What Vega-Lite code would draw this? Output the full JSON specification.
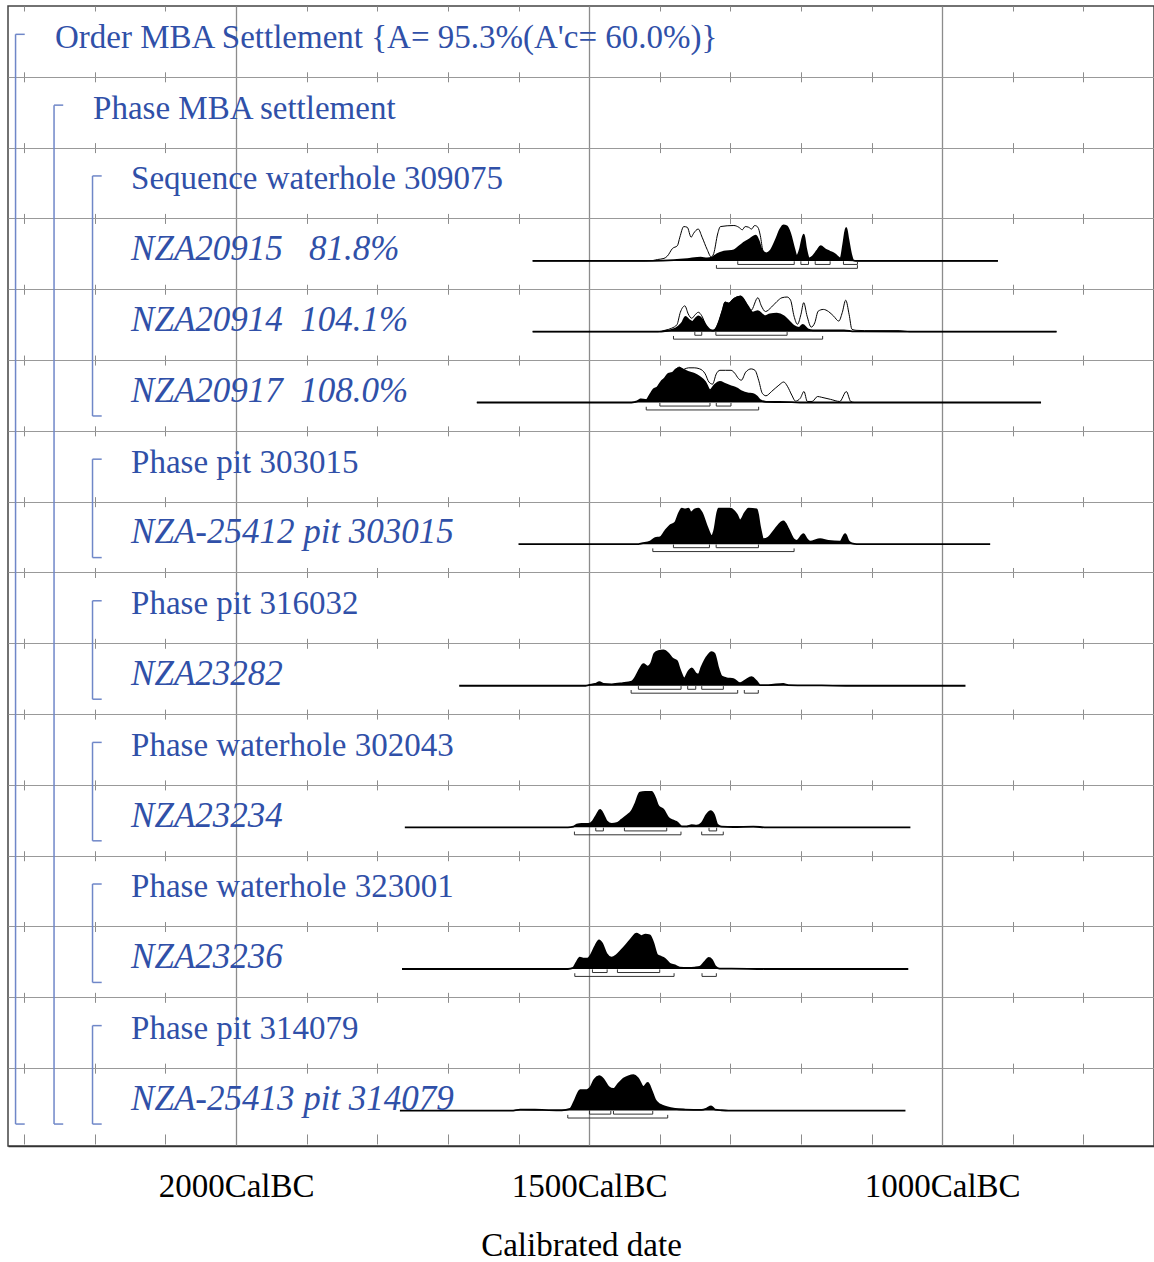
{
  "$schema": "https://vega.github.io/schema/vega-lite/v6.json",
  "width": 1146,
  "height": 1140,
  "autosize": "none",
  "padding": {"left": 8, "top": 6, "right": 0, "bottom": 116},
  "background": "white",
  "config": {
    "view": {"stroke": "#444", "strokeWidth": 1.5}
  },
  "datasets": {
    "labels": [
      {"row": 0, "level": 0, "it": false, "text": "Order MBA Settlement {A= 95.3%(A'c= 60.0%)}"},
      {"row": 1, "level": 1, "it": false, "text": "Phase MBA settlement"},
      {"row": 2, "level": 2, "it": false, "text": "Sequence waterhole 309075"},
      {"row": 3, "level": 2, "it": true, "text": "NZA20915\u00a0\u00a0\u00a081.8%"},
      {"row": 4, "level": 2, "it": true, "text": "NZA20914\u00a0\u00a0104.1%"},
      {"row": 5, "level": 2, "it": true, "text": "NZA20917\u00a0\u00a0108.0%"},
      {"row": 6, "level": 2, "it": false, "text": "Phase pit 303015"},
      {"row": 7, "level": 2, "it": true, "text": "NZA-25412 pit 303015"},
      {"row": 8, "level": 2, "it": false, "text": "Phase pit 316032"},
      {"row": 9, "level": 2, "it": true, "text": "NZA23282"},
      {"row": 10, "level": 2, "it": false, "text": "Phase waterhole 302043"},
      {"row": 11, "level": 2, "it": true, "text": "NZA23234"},
      {"row": 12, "level": 2, "it": false, "text": "Phase waterhole 323001"},
      {"row": 13, "level": 2, "it": true, "text": "NZA23236"},
      {"row": 14, "level": 2, "it": false, "text": "Phase pit 314079"},
      {"row": 15, "level": 2, "it": true, "text": "NZA-25413 pit 314079"}
    ],
    "brackets": [
      {"level": 0, "first": 0, "last": 15},
      {"level": 1, "first": 1, "last": 15},
      {"level": 2, "first": 2, "last": 5},
      {"level": 2, "first": 6, "last": 7},
      {"level": 2, "first": 8, "last": 9},
      {"level": 2, "first": 10, "last": 11},
      {"level": 2, "first": 12, "last": 13},
      {"level": 2, "first": 14, "last": 15}
    ],
    "ranges": [
      {"row": 3, "ci": 68, "from": 1289.5, "to": 1209.5},
      {"row": 3, "ci": 68, "from": 1200.1, "to": 1189.3},
      {"row": 3, "ci": 68, "from": 1179.8, "to": 1158.7},
      {"row": 3, "ci": 68, "from": 1139.8, "to": 1120},
      {"row": 3, "ci": 95, "from": 1319.7, "to": 1120},
      {"row": 4, "ci": 68, "from": 1350.3, "to": 1340.5},
      {"row": 4, "ci": 68, "from": 1320.5, "to": 1219.6},
      {"row": 4, "ci": 95, "from": 1380.5, "to": 1169.3},
      {"row": 5, "ci": 68, "from": 1399.8, "to": 1328.8},
      {"row": 5, "ci": 68, "from": 1319.9, "to": 1299.1},
      {"row": 5, "ci": 95, "from": 1419.1, "to": 1259.9},
      {"row": 7, "ci": 68, "from": 1380.6, "to": 1329.6},
      {"row": 7, "ci": 68, "from": 1320.1, "to": 1260.2},
      {"row": 7, "ci": 95, "from": 1409.8, "to": 1209.7},
      {"row": 9, "ci": 68, "from": 1430.2, "to": 1369.8},
      {"row": 9, "ci": 68, "from": 1360.4, "to": 1349},
      {"row": 9, "ci": 68, "from": 1340.5, "to": 1309.9},
      {"row": 9, "ci": 95, "from": 1440.5, "to": 1289.6},
      {"row": 9, "ci": 95, "from": 1280.2, "to": 1260.4},
      {"row": 11, "ci": 68, "from": 1490.6, "to": 1479.8},
      {"row": 11, "ci": 68, "from": 1450, "to": 1390.1},
      {"row": 11, "ci": 68, "from": 1330.2, "to": 1319.4},
      {"row": 11, "ci": 95, "from": 1520.8, "to": 1369.9},
      {"row": 11, "ci": 95, "from": 1340.6, "to": 1310},
      {"row": 13, "ci": 68, "from": 1495.3, "to": 1474.5},
      {"row": 13, "ci": 68, "from": 1459.9, "to": 1400},
      {"row": 13, "ci": 95, "from": 1520.3, "to": 1379.7},
      {"row": 13, "ci": 95, "from": 1340.1, "to": 1319.8},
      {"row": 15, "ci": 68, "from": 1499.5, "to": 1469.3},
      {"row": 15, "ci": 68, "from": 1465.5, "to": 1409.9},
      {"row": 15, "ci": 95, "from": 1530.2, "to": 1388.7}
    ],
    "curves": [
      {"row": 3, "k": "prior", "yr": 1580, "p": 0},
      {"row": 3, "k": "prior", "yr": 1420, "p": 0},
      {"row": 3, "k": "prior", "yr": 1410, "p": 0.01},
      {"row": 3, "k": "prior", "yr": 1403, "p": 0.04},
      {"row": 3, "k": "prior", "yr": 1394, "p": 0.07},
      {"row": 3, "k": "prior", "yr": 1389, "p": 0.14},
      {"row": 3, "k": "prior", "yr": 1382, "p": 0.35},
      {"row": 3, "k": "prior", "yr": 1375, "p": 0.43},
      {"row": 3, "k": "prior", "yr": 1371.5, "p": 0.67},
      {"row": 3, "k": "prior", "yr": 1366, "p": 0.97},
      {"row": 3, "k": "prior", "yr": 1361, "p": 0.95},
      {"row": 3, "k": "prior", "yr": 1355.5, "p": 0.67},
      {"row": 3, "k": "prior", "yr": 1352, "p": 0.78},
      {"row": 3, "k": "prior", "yr": 1345.5, "p": 0.9},
      {"row": 3, "k": "prior", "yr": 1340, "p": 0.67},
      {"row": 3, "k": "prior", "yr": 1333, "p": 0.33},
      {"row": 3, "k": "prior", "yr": 1327, "p": 0.11},
      {"row": 3, "k": "prior", "yr": 1323.5, "p": 0.21},
      {"row": 3, "k": "prior", "yr": 1318, "p": 0.76},
      {"row": 3, "k": "prior", "yr": 1314, "p": 0.97},
      {"row": 3, "k": "prior", "yr": 1295, "p": 1.0},
      {"row": 3, "k": "prior", "yr": 1288, "p": 0.95},
      {"row": 3, "k": "prior", "yr": 1283, "p": 0.88},
      {"row": 3, "k": "prior", "yr": 1279, "p": 0.97},
      {"row": 3, "k": "prior", "yr": 1274, "p": 0.95},
      {"row": 3, "k": "prior", "yr": 1270, "p": 0.9},
      {"row": 3, "k": "prior", "yr": 1265.5, "p": 1.0},
      {"row": 3, "k": "prior", "yr": 1261, "p": 0.95},
      {"row": 3, "k": "prior", "yr": 1257.5, "p": 0.71},
      {"row": 3, "k": "prior", "yr": 1254, "p": 0.3},
      {"row": 3, "k": "prior", "yr": 1249, "p": 0.15},
      {"row": 3, "k": "prior", "yr": 1240, "p": 0.12},
      {"row": 3, "k": "prior", "yr": 1220, "p": 0.1},
      {"row": 3, "k": "prior", "yr": 1200, "p": 0.05},
      {"row": 3, "k": "prior", "yr": 1150, "p": 0.03},
      {"row": 3, "k": "prior", "yr": 1120, "p": 0},
      {"row": 3, "k": "prior", "yr": 921, "p": 0},
      {"row": 3, "k": "post", "yr": 1580, "p": 0},
      {"row": 3, "k": "post", "yr": 1410, "p": 0},
      {"row": 3, "k": "post", "yr": 1380, "p": 0.02},
      {"row": 3, "k": "post", "yr": 1361, "p": 0.05},
      {"row": 3, "k": "post", "yr": 1342, "p": 0.09},
      {"row": 3, "k": "post", "yr": 1333, "p": 0.07},
      {"row": 3, "k": "post", "yr": 1326, "p": 0.09},
      {"row": 3, "k": "post", "yr": 1319, "p": 0.19},
      {"row": 3, "k": "post", "yr": 1309, "p": 0.26},
      {"row": 3, "k": "post", "yr": 1295, "p": 0.3},
      {"row": 3, "k": "post", "yr": 1288, "p": 0.4},
      {"row": 3, "k": "post", "yr": 1283, "p": 0.48},
      {"row": 3, "k": "post", "yr": 1276, "p": 0.57},
      {"row": 3, "k": "post", "yr": 1272, "p": 0.62},
      {"row": 3, "k": "post", "yr": 1267, "p": 0.69},
      {"row": 3, "k": "post", "yr": 1264, "p": 0.71},
      {"row": 3, "k": "post", "yr": 1260, "p": 0.57},
      {"row": 3, "k": "post", "yr": 1255, "p": 0.29},
      {"row": 3, "k": "post", "yr": 1249, "p": 0.21},
      {"row": 3, "k": "post", "yr": 1243, "p": 0.29},
      {"row": 3, "k": "post", "yr": 1236, "p": 0.57},
      {"row": 3, "k": "post", "yr": 1229, "p": 0.9},
      {"row": 3, "k": "post", "yr": 1225, "p": 1.0},
      {"row": 3, "k": "post", "yr": 1220, "p": 0.98},
      {"row": 3, "k": "post", "yr": 1215, "p": 0.76},
      {"row": 3, "k": "post", "yr": 1210, "p": 0.38},
      {"row": 3, "k": "post", "yr": 1206, "p": 0.14},
      {"row": 3, "k": "post", "yr": 1202, "p": 0.29},
      {"row": 3, "k": "post", "yr": 1196, "p": 0.74},
      {"row": 3, "k": "post", "yr": 1193, "p": 0.38},
      {"row": 3, "k": "post", "yr": 1188, "p": 0.07},
      {"row": 3, "k": "post", "yr": 1185, "p": 0.1},
      {"row": 3, "k": "post", "yr": 1177, "p": 0.29},
      {"row": 3, "k": "post", "yr": 1172, "p": 0.42},
      {"row": 3, "k": "post", "yr": 1166, "p": 0.33},
      {"row": 3, "k": "post", "yr": 1159, "p": 0.26},
      {"row": 3, "k": "post", "yr": 1152, "p": 0.19},
      {"row": 3, "k": "post", "yr": 1147, "p": 0.1},
      {"row": 3, "k": "post", "yr": 1144, "p": 0.07},
      {"row": 3, "k": "post", "yr": 1140, "p": 0.48},
      {"row": 3, "k": "post", "yr": 1136, "p": 0.93},
      {"row": 3, "k": "post", "yr": 1133, "p": 0.62},
      {"row": 3, "k": "post", "yr": 1129, "p": 0.19},
      {"row": 3, "k": "post", "yr": 1126, "p": 0.02},
      {"row": 3, "k": "post", "yr": 1122, "p": 0},
      {"row": 3, "k": "post", "yr": 921, "p": 0},
      {"row": 4, "k": "prior", "yr": 1580, "p": 0},
      {"row": 4, "k": "prior", "yr": 1402.5, "p": 0},
      {"row": 4, "k": "prior", "yr": 1392.7, "p": 0.04},
      {"row": 4, "k": "prior", "yr": 1383, "p": 0.1},
      {"row": 4, "k": "prior", "yr": 1375.6, "p": 0.2},
      {"row": 4, "k": "prior", "yr": 1370.8, "p": 0.55},
      {"row": 4, "k": "prior", "yr": 1364.4, "p": 0.73},
      {"row": 4, "k": "prior", "yr": 1359.6, "p": 0.5},
      {"row": 4, "k": "prior", "yr": 1354.7, "p": 0.38},
      {"row": 4, "k": "prior", "yr": 1349.8, "p": 0.48},
      {"row": 4, "k": "prior", "yr": 1345.4, "p": 0.55},
      {"row": 4, "k": "prior", "yr": 1340.5, "p": 0.45},
      {"row": 4, "k": "prior", "yr": 1334.2, "p": 0.17},
      {"row": 4, "k": "prior", "yr": 1328.3, "p": 0.05},
      {"row": 4, "k": "prior", "yr": 1324.4, "p": 0.04},
      {"row": 4, "k": "prior", "yr": 1320.5, "p": 0.1},
      {"row": 4, "k": "prior", "yr": 1315.7, "p": 0.32},
      {"row": 4, "k": "prior", "yr": 1311, "p": 0.62},
      {"row": 4, "k": "prior", "yr": 1307.4, "p": 0.84},
      {"row": 4, "k": "prior", "yr": 1302.5, "p": 0.81},
      {"row": 4, "k": "prior", "yr": 1295.2, "p": 0.94},
      {"row": 4, "k": "prior", "yr": 1285.4, "p": 1.0},
      {"row": 4, "k": "prior", "yr": 1278.1, "p": 0.82},
      {"row": 4, "k": "prior", "yr": 1270.8, "p": 0.6},
      {"row": 4, "k": "prior", "yr": 1261, "p": 0.96},
      {"row": 4, "k": "prior", "yr": 1256.1, "p": 0.73},
      {"row": 4, "k": "prior", "yr": 1250.3, "p": 0.57},
      {"row": 4, "k": "prior", "yr": 1241.5, "p": 0.7},
      {"row": 4, "k": "prior", "yr": 1234.2, "p": 0.85},
      {"row": 4, "k": "prior", "yr": 1226.9, "p": 0.96},
      {"row": 4, "k": "prior", "yr": 1219.6, "p": 0.98},
      {"row": 4, "k": "prior", "yr": 1214.7, "p": 0.89},
      {"row": 4, "k": "prior", "yr": 1209.8, "p": 0.44},
      {"row": 4, "k": "prior", "yr": 1204.9, "p": 0.21},
      {"row": 4, "k": "prior", "yr": 1200, "p": 0.49},
      {"row": 4, "k": "prior", "yr": 1196.1, "p": 0.82},
      {"row": 4, "k": "prior", "yr": 1191.3, "p": 0.44},
      {"row": 4, "k": "prior", "yr": 1185.4, "p": 0.13},
      {"row": 4, "k": "prior", "yr": 1180.5, "p": 0.25},
      {"row": 4, "k": "prior", "yr": 1175.6, "p": 0.58},
      {"row": 4, "k": "prior", "yr": 1168.3, "p": 0.63},
      {"row": 4, "k": "prior", "yr": 1161, "p": 0.57},
      {"row": 4, "k": "prior", "yr": 1153.7, "p": 0.44},
      {"row": 4, "k": "prior", "yr": 1146.4, "p": 0.3},
      {"row": 4, "k": "prior", "yr": 1141.5, "p": 0.54},
      {"row": 4, "k": "prior", "yr": 1136.6, "p": 0.89},
      {"row": 4, "k": "prior", "yr": 1131.8, "p": 0.49},
      {"row": 4, "k": "prior", "yr": 1127.8, "p": 0.07},
      {"row": 4, "k": "prior", "yr": 1122, "p": 0.04},
      {"row": 4, "k": "prior", "yr": 1109.8, "p": 0.03},
      {"row": 4, "k": "prior", "yr": 1061, "p": 0.03},
      {"row": 4, "k": "prior", "yr": 1046.4, "p": 0},
      {"row": 4, "k": "prior", "yr": 838, "p": 0},
      {"row": 4, "k": "post", "yr": 1580, "p": 0},
      {"row": 4, "k": "post", "yr": 1400, "p": 0},
      {"row": 4, "k": "post", "yr": 1392.7, "p": 0.02},
      {"row": 4, "k": "post", "yr": 1383, "p": 0.05},
      {"row": 4, "k": "post", "yr": 1373.2, "p": 0.15},
      {"row": 4, "k": "post", "yr": 1368.3, "p": 0.25},
      {"row": 4, "k": "post", "yr": 1363.5, "p": 0.42},
      {"row": 4, "k": "post", "yr": 1358.6, "p": 0.33},
      {"row": 4, "k": "post", "yr": 1353.7, "p": 0.28},
      {"row": 4, "k": "post", "yr": 1348.8, "p": 0.38},
      {"row": 4, "k": "post", "yr": 1344.9, "p": 0.43},
      {"row": 4, "k": "post", "yr": 1340, "p": 0.35},
      {"row": 4, "k": "post", "yr": 1334.2, "p": 0.17},
      {"row": 4, "k": "post", "yr": 1328.3, "p": 0.05},
      {"row": 4, "k": "post", "yr": 1324.4, "p": 0.03},
      {"row": 4, "k": "post", "yr": 1320.5, "p": 0.08},
      {"row": 4, "k": "post", "yr": 1315.7, "p": 0.3},
      {"row": 4, "k": "post", "yr": 1311, "p": 0.6},
      {"row": 4, "k": "post", "yr": 1307.4, "p": 0.82},
      {"row": 4, "k": "post", "yr": 1302.5, "p": 0.79},
      {"row": 4, "k": "post", "yr": 1295.2, "p": 0.92},
      {"row": 4, "k": "post", "yr": 1285.4, "p": 1.0},
      {"row": 4, "k": "post", "yr": 1275.6, "p": 0.73},
      {"row": 4, "k": "post", "yr": 1268.3, "p": 0.54},
      {"row": 4, "k": "post", "yr": 1261, "p": 0.58},
      {"row": 4, "k": "post", "yr": 1251.3, "p": 0.44},
      {"row": 4, "k": "post", "yr": 1244, "p": 0.49},
      {"row": 4, "k": "post", "yr": 1234.2, "p": 0.51},
      {"row": 4, "k": "post", "yr": 1224.4, "p": 0.44},
      {"row": 4, "k": "post", "yr": 1217.1, "p": 0.3},
      {"row": 4, "k": "post", "yr": 1209.8, "p": 0.16},
      {"row": 4, "k": "post", "yr": 1202.5, "p": 0.11},
      {"row": 4, "k": "post", "yr": 1197.6, "p": 0.19},
      {"row": 4, "k": "post", "yr": 1190.3, "p": 0.07},
      {"row": 4, "k": "post", "yr": 1183, "p": 0.04},
      {"row": 4, "k": "post", "yr": 1168.4, "p": 0.04},
      {"row": 4, "k": "post", "yr": 1139, "p": 0.04},
      {"row": 4, "k": "post", "yr": 1124.4, "p": 0.01},
      {"row": 4, "k": "post", "yr": 1046, "p": 0},
      {"row": 4, "k": "post", "yr": 838, "p": 0},
      {"row": 5, "k": "prior", "yr": 1659, "p": 0},
      {"row": 5, "k": "prior", "yr": 1440, "p": 0},
      {"row": 5, "k": "prior", "yr": 1432.1, "p": 0.03},
      {"row": 5, "k": "prior", "yr": 1426.9, "p": 0.09},
      {"row": 5, "k": "prior", "yr": 1419.1, "p": 0.07},
      {"row": 5, "k": "prior", "yr": 1413.9, "p": 0.21},
      {"row": 5, "k": "prior", "yr": 1408.7, "p": 0.37},
      {"row": 5, "k": "prior", "yr": 1403.4, "p": 0.43},
      {"row": 5, "k": "prior", "yr": 1398.2, "p": 0.58},
      {"row": 5, "k": "prior", "yr": 1393, "p": 0.68},
      {"row": 5, "k": "prior", "yr": 1387.8, "p": 0.81},
      {"row": 5, "k": "prior", "yr": 1382.6, "p": 0.84},
      {"row": 5, "k": "prior", "yr": 1377.3, "p": 0.94},
      {"row": 5, "k": "prior", "yr": 1372.1, "p": 1.0},
      {"row": 5, "k": "prior", "yr": 1366.9, "p": 0.93},
      {"row": 5, "k": "prior", "yr": 1364.3, "p": 0.95},
      {"row": 5, "k": "prior", "yr": 1359.1, "p": 0.98},
      {"row": 5, "k": "prior", "yr": 1351.2, "p": 0.98},
      {"row": 5, "k": "prior", "yr": 1343.4, "p": 0.95},
      {"row": 5, "k": "prior", "yr": 1335.6, "p": 0.81},
      {"row": 5, "k": "prior", "yr": 1330.4, "p": 0.58},
      {"row": 5, "k": "prior", "yr": 1325.2, "p": 0.52},
      {"row": 5, "k": "prior", "yr": 1319.9, "p": 0.81},
      {"row": 5, "k": "prior", "yr": 1314.7, "p": 0.91},
      {"row": 5, "k": "prior", "yr": 1306.9, "p": 0.91},
      {"row": 5, "k": "prior", "yr": 1299.1, "p": 0.91},
      {"row": 5, "k": "prior", "yr": 1293.8, "p": 0.83},
      {"row": 5, "k": "prior", "yr": 1288.6, "p": 0.68},
      {"row": 5, "k": "prior", "yr": 1284.4, "p": 0.63},
      {"row": 5, "k": "prior", "yr": 1278.2, "p": 0.86},
      {"row": 5, "k": "prior", "yr": 1270.4, "p": 0.95},
      {"row": 5, "k": "prior", "yr": 1265.1, "p": 0.91},
      {"row": 5, "k": "prior", "yr": 1259.9, "p": 0.63},
      {"row": 5, "k": "prior", "yr": 1254.7, "p": 0.26},
      {"row": 5, "k": "prior", "yr": 1249.5, "p": 0.19},
      {"row": 5, "k": "prior", "yr": 1241.7, "p": 0.31},
      {"row": 5, "k": "prior", "yr": 1231.2, "p": 0.49},
      {"row": 5, "k": "prior", "yr": 1224.4, "p": 0.58},
      {"row": 5, "k": "prior", "yr": 1219.2, "p": 0.46},
      {"row": 5, "k": "prior", "yr": 1213, "p": 0.21},
      {"row": 5, "k": "prior", "yr": 1207.7, "p": 0.04},
      {"row": 5, "k": "prior", "yr": 1201, "p": 0.12},
      {"row": 5, "k": "prior", "yr": 1195.7, "p": 0.31},
      {"row": 5, "k": "prior", "yr": 1191, "p": 0.03},
      {"row": 5, "k": "prior", "yr": 1184.2, "p": 0.03},
      {"row": 5, "k": "prior", "yr": 1176.4, "p": 0.17},
      {"row": 5, "k": "prior", "yr": 1171.2, "p": 0.15},
      {"row": 5, "k": "prior", "yr": 1158.2, "p": 0.09},
      {"row": 5, "k": "prior", "yr": 1145.1, "p": 0.03},
      {"row": 5, "k": "prior", "yr": 1135.7, "p": 0.31},
      {"row": 5, "k": "prior", "yr": 1129.5, "p": 0.03},
      {"row": 5, "k": "prior", "yr": 1124.2, "p": 0},
      {"row": 5, "k": "prior", "yr": 860, "p": 0},
      {"row": 5, "k": "post", "yr": 1659, "p": 0},
      {"row": 5, "k": "post", "yr": 1440, "p": 0},
      {"row": 5, "k": "post", "yr": 1432.1, "p": 0.03},
      {"row": 5, "k": "post", "yr": 1426.9, "p": 0.09},
      {"row": 5, "k": "post", "yr": 1419.1, "p": 0.07},
      {"row": 5, "k": "post", "yr": 1413.9, "p": 0.21},
      {"row": 5, "k": "post", "yr": 1408.7, "p": 0.37},
      {"row": 5, "k": "post", "yr": 1403.4, "p": 0.43},
      {"row": 5, "k": "post", "yr": 1398.2, "p": 0.58},
      {"row": 5, "k": "post", "yr": 1393, "p": 0.68},
      {"row": 5, "k": "post", "yr": 1387.8, "p": 0.81},
      {"row": 5, "k": "post", "yr": 1382.6, "p": 0.83},
      {"row": 5, "k": "post", "yr": 1377.3, "p": 0.93},
      {"row": 5, "k": "post", "yr": 1372.1, "p": 0.98},
      {"row": 5, "k": "post", "yr": 1366.9, "p": 0.93},
      {"row": 5, "k": "post", "yr": 1359.1, "p": 0.86},
      {"row": 5, "k": "post", "yr": 1351.2, "p": 0.81},
      {"row": 5, "k": "post", "yr": 1343.4, "p": 0.72},
      {"row": 5, "k": "post", "yr": 1335.6, "p": 0.58},
      {"row": 5, "k": "post", "yr": 1328.8, "p": 0.35},
      {"row": 5, "k": "post", "yr": 1322.5, "p": 0.49},
      {"row": 5, "k": "post", "yr": 1314.7, "p": 0.58},
      {"row": 5, "k": "post", "yr": 1306.9, "p": 0.52},
      {"row": 5, "k": "post", "yr": 1299.1, "p": 0.46},
      {"row": 5, "k": "post", "yr": 1291.2, "p": 0.4},
      {"row": 5, "k": "post", "yr": 1283.4, "p": 0.31},
      {"row": 5, "k": "post", "yr": 1275.6, "p": 0.26},
      {"row": 5, "k": "post", "yr": 1267.8, "p": 0.24},
      {"row": 5, "k": "post", "yr": 1262.5, "p": 0.17},
      {"row": 5, "k": "post", "yr": 1257.3, "p": 0.06},
      {"row": 5, "k": "post", "yr": 1249.5, "p": 0.02},
      {"row": 5, "k": "post", "yr": 1213, "p": 0.01},
      {"row": 5, "k": "post", "yr": 1197.3, "p": 0},
      {"row": 5, "k": "post", "yr": 860, "p": 0},
      {"row": 7, "k": "post", "yr": 1600, "p": 0},
      {"row": 7, "k": "post", "yr": 1430, "p": 0},
      {"row": 7, "k": "post", "yr": 1425.4, "p": 0.02},
      {"row": 7, "k": "post", "yr": 1413.6, "p": 0.07},
      {"row": 7, "k": "post", "yr": 1406.5, "p": 0.17},
      {"row": 7, "k": "post", "yr": 1399.5, "p": 0.19},
      {"row": 7, "k": "post", "yr": 1392.4, "p": 0.37},
      {"row": 7, "k": "post", "yr": 1385.3, "p": 0.53},
      {"row": 7, "k": "post", "yr": 1378.2, "p": 0.61},
      {"row": 7, "k": "post", "yr": 1373.5, "p": 0.84},
      {"row": 7, "k": "post", "yr": 1368.8, "p": 1.0},
      {"row": 7, "k": "post", "yr": 1364.1, "p": 0.98},
      {"row": 7, "k": "post", "yr": 1359.3, "p": 1.0},
      {"row": 7, "k": "post", "yr": 1356, "p": 0.89},
      {"row": 7, "k": "post", "yr": 1349.9, "p": 0.98},
      {"row": 7, "k": "post", "yr": 1345.2, "p": 1.0},
      {"row": 7, "k": "post", "yr": 1340.4, "p": 0.89},
      {"row": 7, "k": "post", "yr": 1333.4, "p": 0.51},
      {"row": 7, "k": "post", "yr": 1326.3, "p": 0.23},
      {"row": 7, "k": "post", "yr": 1323, "p": 0.37},
      {"row": 7, "k": "post", "yr": 1316.8, "p": 1.0},
      {"row": 7, "k": "post", "yr": 1300.3, "p": 1.0},
      {"row": 7, "k": "post", "yr": 1290.9, "p": 0.84},
      {"row": 7, "k": "post", "yr": 1286.2, "p": 0.67},
      {"row": 7, "k": "post", "yr": 1279.1, "p": 0.89},
      {"row": 7, "k": "post", "yr": 1274.3, "p": 1.0},
      {"row": 7, "k": "post", "yr": 1262.6, "p": 0.98},
      {"row": 7, "k": "post", "yr": 1257.8, "p": 0.47},
      {"row": 7, "k": "post", "yr": 1253.1, "p": 0.14},
      {"row": 7, "k": "post", "yr": 1246, "p": 0.19},
      {"row": 7, "k": "post", "yr": 1236.6, "p": 0.42},
      {"row": 7, "k": "post", "yr": 1224.8, "p": 0.64},
      {"row": 7, "k": "post", "yr": 1217.7, "p": 0.42},
      {"row": 7, "k": "post", "yr": 1210.6, "p": 0.14},
      {"row": 7, "k": "post", "yr": 1205.9, "p": 0.09},
      {"row": 7, "k": "post", "yr": 1196.4, "p": 0.28},
      {"row": 7, "k": "post", "yr": 1191.7, "p": 0.14},
      {"row": 7, "k": "post", "yr": 1187, "p": 0.07},
      {"row": 7, "k": "post", "yr": 1172.8, "p": 0.14},
      {"row": 7, "k": "post", "yr": 1161.1, "p": 0.09},
      {"row": 7, "k": "post", "yr": 1144.5, "p": 0.07},
      {"row": 7, "k": "post", "yr": 1137.4, "p": 0.28},
      {"row": 7, "k": "post", "yr": 1132.7, "p": 0.09},
      {"row": 7, "k": "post", "yr": 1128, "p": 0.02},
      {"row": 7, "k": "post", "yr": 1121, "p": 0},
      {"row": 7, "k": "post", "yr": 932, "p": 0},
      {"row": 9, "k": "post", "yr": 1684, "p": 0},
      {"row": 9, "k": "post", "yr": 1505, "p": 0},
      {"row": 9, "k": "post", "yr": 1500.9, "p": 0.02},
      {"row": 9, "k": "post", "yr": 1491.5, "p": 0.05},
      {"row": 9, "k": "post", "yr": 1485.4, "p": 0.1},
      {"row": 9, "k": "post", "yr": 1479.7, "p": 0.05},
      {"row": 9, "k": "post", "yr": 1467.9, "p": 0.04},
      {"row": 9, "k": "post", "yr": 1453.7, "p": 0.07},
      {"row": 9, "k": "post", "yr": 1439.6, "p": 0.12},
      {"row": 9, "k": "post", "yr": 1432.5, "p": 0.31},
      {"row": 9, "k": "post", "yr": 1427.8, "p": 0.49},
      {"row": 9, "k": "post", "yr": 1423.1, "p": 0.61},
      {"row": 9, "k": "post", "yr": 1417, "p": 0.54},
      {"row": 9, "k": "post", "yr": 1412.2, "p": 0.63},
      {"row": 9, "k": "post", "yr": 1407.5, "p": 0.91},
      {"row": 9, "k": "post", "yr": 1401.9, "p": 0.98},
      {"row": 9, "k": "post", "yr": 1394.8, "p": 1.0},
      {"row": 9, "k": "post", "yr": 1387.7, "p": 0.91},
      {"row": 9, "k": "post", "yr": 1382.1, "p": 0.77},
      {"row": 9, "k": "post", "yr": 1375.9, "p": 0.7},
      {"row": 9, "k": "post", "yr": 1371.2, "p": 0.44},
      {"row": 9, "k": "post", "yr": 1365.1, "p": 0.21},
      {"row": 9, "k": "post", "yr": 1359.4, "p": 0.4},
      {"row": 9, "k": "post", "yr": 1354.7, "p": 0.49},
      {"row": 9, "k": "post", "yr": 1349, "p": 0.35},
      {"row": 9, "k": "post", "yr": 1345.3, "p": 0.32},
      {"row": 9, "k": "post", "yr": 1340.5, "p": 0.54},
      {"row": 9, "k": "post", "yr": 1333.5, "p": 0.81},
      {"row": 9, "k": "post", "yr": 1326.4, "p": 0.95},
      {"row": 9, "k": "post", "yr": 1322.6, "p": 0.91},
      {"row": 9, "k": "post", "yr": 1317, "p": 0.49},
      {"row": 9, "k": "post", "yr": 1312.2, "p": 0.26},
      {"row": 9, "k": "post", "yr": 1305.2, "p": 0.21},
      {"row": 9, "k": "post", "yr": 1295.7, "p": 0.19},
      {"row": 9, "k": "post", "yr": 1286.3, "p": 0.07},
      {"row": 9, "k": "post", "yr": 1279.2, "p": 0.15},
      {"row": 9, "k": "post", "yr": 1269.8, "p": 0.24},
      {"row": 9, "k": "post", "yr": 1262.7, "p": 0.12},
      {"row": 9, "k": "post", "yr": 1258, "p": 0.02},
      {"row": 9, "k": "post", "yr": 1246.2, "p": 0.02},
      {"row": 9, "k": "post", "yr": 1225, "p": 0.05},
      {"row": 9, "k": "post", "yr": 1217.9, "p": 0.02},
      {"row": 9, "k": "post", "yr": 1170.7, "p": 0.01},
      {"row": 9, "k": "post", "yr": 1123.6, "p": 0},
      {"row": 9, "k": "post", "yr": 967, "p": 0},
      {"row": 11, "k": "post", "yr": 1761, "p": 0},
      {"row": 11, "k": "post", "yr": 1530, "p": 0},
      {"row": 11, "k": "post", "yr": 1522.2, "p": 0.02},
      {"row": 11, "k": "post", "yr": 1517.5, "p": 0.08},
      {"row": 11, "k": "post", "yr": 1510.4, "p": 0.1},
      {"row": 11, "k": "post", "yr": 1501, "p": 0.1},
      {"row": 11, "k": "post", "yr": 1494.9, "p": 0.17},
      {"row": 11, "k": "post", "yr": 1489.2, "p": 0.36},
      {"row": 11, "k": "post", "yr": 1484.5, "p": 0.49},
      {"row": 11, "k": "post", "yr": 1479.8, "p": 0.36},
      {"row": 11, "k": "post", "yr": 1475, "p": 0.17},
      {"row": 11, "k": "post", "yr": 1468, "p": 0.1},
      {"row": 11, "k": "post", "yr": 1460.9, "p": 0.12},
      {"row": 11, "k": "post", "yr": 1453.8, "p": 0.22},
      {"row": 11, "k": "post", "yr": 1446.7, "p": 0.33},
      {"row": 11, "k": "post", "yr": 1439.7, "p": 0.46},
      {"row": 11, "k": "post", "yr": 1435, "p": 0.65},
      {"row": 11, "k": "post", "yr": 1427.9, "p": 0.98},
      {"row": 11, "k": "post", "yr": 1420.8, "p": 1.0},
      {"row": 11, "k": "post", "yr": 1411.4, "p": 1.0},
      {"row": 11, "k": "post", "yr": 1406.6, "p": 0.84},
      {"row": 11, "k": "post", "yr": 1402, "p": 0.6},
      {"row": 11, "k": "post", "yr": 1394.9, "p": 0.5},
      {"row": 11, "k": "post", "yr": 1387.8, "p": 0.27},
      {"row": 11, "k": "post", "yr": 1380.7, "p": 0.19},
      {"row": 11, "k": "post", "yr": 1375.1, "p": 0.14},
      {"row": 11, "k": "post", "yr": 1368.9, "p": 0.03},
      {"row": 11, "k": "post", "yr": 1361.9, "p": 0.03},
      {"row": 11, "k": "post", "yr": 1354.8, "p": 0.06},
      {"row": 11, "k": "post", "yr": 1347.7, "p": 0.05},
      {"row": 11, "k": "post", "yr": 1340.6, "p": 0.12},
      {"row": 11, "k": "post", "yr": 1333.5, "p": 0.36},
      {"row": 11, "k": "post", "yr": 1327.9, "p": 0.46},
      {"row": 11, "k": "post", "yr": 1323.2, "p": 0.36},
      {"row": 11, "k": "post", "yr": 1318.4, "p": 0.08},
      {"row": 11, "k": "post", "yr": 1312.3, "p": 0.02},
      {"row": 11, "k": "post", "yr": 1295.8, "p": 0.01},
      {"row": 11, "k": "post", "yr": 1267.5, "p": 0.02},
      {"row": 11, "k": "post", "yr": 1248.6, "p": 0},
      {"row": 11, "k": "post", "yr": 1045, "p": 0},
      {"row": 13, "k": "post", "yr": 1765, "p": 0},
      {"row": 13, "k": "post", "yr": 1530, "p": 0},
      {"row": 13, "k": "post", "yr": 1522.7, "p": 0.03},
      {"row": 13, "k": "post", "yr": 1518, "p": 0.18},
      {"row": 13, "k": "post", "yr": 1513.2, "p": 0.32},
      {"row": 13, "k": "post", "yr": 1508.5, "p": 0.29},
      {"row": 13, "k": "post", "yr": 1502.4, "p": 0.29},
      {"row": 13, "k": "post", "yr": 1497.7, "p": 0.39},
      {"row": 13, "k": "post", "yr": 1492, "p": 0.62},
      {"row": 13, "k": "post", "yr": 1485.9, "p": 0.81},
      {"row": 13, "k": "post", "yr": 1481.6, "p": 0.72},
      {"row": 13, "k": "post", "yr": 1475.5, "p": 0.43},
      {"row": 13, "k": "post", "yr": 1468.4, "p": 0.32},
      {"row": 13, "k": "post", "yr": 1461.3, "p": 0.39},
      {"row": 13, "k": "post", "yr": 1454.3, "p": 0.53},
      {"row": 13, "k": "post", "yr": 1447.2, "p": 0.69},
      {"row": 13, "k": "post", "yr": 1440.1, "p": 0.86},
      {"row": 13, "k": "post", "yr": 1433, "p": 1.0},
      {"row": 13, "k": "post", "yr": 1426, "p": 0.93},
      {"row": 13, "k": "post", "yr": 1420.3, "p": 0.97},
      {"row": 13, "k": "post", "yr": 1414.2, "p": 0.95},
      {"row": 13, "k": "post", "yr": 1409.5, "p": 0.76},
      {"row": 13, "k": "post", "yr": 1403.3, "p": 0.39},
      {"row": 13, "k": "post", "yr": 1397.7, "p": 0.34},
      {"row": 13, "k": "post", "yr": 1392.9, "p": 0.29},
      {"row": 13, "k": "post", "yr": 1385.9, "p": 0.15},
      {"row": 13, "k": "post", "yr": 1378.8, "p": 0.1},
      {"row": 13, "k": "post", "yr": 1371.7, "p": 0.04},
      {"row": 13, "k": "post", "yr": 1359.9, "p": 0.03},
      {"row": 13, "k": "post", "yr": 1350.5, "p": 0.04},
      {"row": 13, "k": "post", "yr": 1343.4, "p": 0.06},
      {"row": 13, "k": "post", "yr": 1336.3, "p": 0.2},
      {"row": 13, "k": "post", "yr": 1330.7, "p": 0.31},
      {"row": 13, "k": "post", "yr": 1326, "p": 0.25},
      {"row": 13, "k": "post", "yr": 1321.2, "p": 0.07},
      {"row": 13, "k": "post", "yr": 1315.1, "p": 0.01},
      {"row": 13, "k": "post", "yr": 1298.6, "p": 0.01},
      {"row": 13, "k": "post", "yr": 1251.5, "p": 0},
      {"row": 13, "k": "post", "yr": 1048, "p": 0},
      {"row": 15, "k": "post", "yr": 1768, "p": 0},
      {"row": 15, "k": "post", "yr": 1610, "p": 0},
      {"row": 15, "k": "post", "yr": 1597.6, "p": 0.03},
      {"row": 15, "k": "post", "yr": 1567, "p": 0.02},
      {"row": 15, "k": "post", "yr": 1538.7, "p": 0.01},
      {"row": 15, "k": "post", "yr": 1526.9, "p": 0.05},
      {"row": 15, "k": "post", "yr": 1519.8, "p": 0.31},
      {"row": 15, "k": "post", "yr": 1512.7, "p": 0.58},
      {"row": 15, "k": "post", "yr": 1503.3, "p": 0.58},
      {"row": 15, "k": "post", "yr": 1498.6, "p": 0.64},
      {"row": 15, "k": "post", "yr": 1492.4, "p": 0.88},
      {"row": 15, "k": "post", "yr": 1485.8, "p": 0.97},
      {"row": 15, "k": "post", "yr": 1479.7, "p": 0.88},
      {"row": 15, "k": "post", "yr": 1472.6, "p": 0.67},
      {"row": 15, "k": "post", "yr": 1465.5, "p": 0.61},
      {"row": 15, "k": "post", "yr": 1458.5, "p": 0.76},
      {"row": 15, "k": "post", "yr": 1451.4, "p": 0.9},
      {"row": 15, "k": "post", "yr": 1444.3, "p": 0.97},
      {"row": 15, "k": "post", "yr": 1437.2, "p": 1.0},
      {"row": 15, "k": "post", "yr": 1431.1, "p": 0.92},
      {"row": 15, "k": "post", "yr": 1423.1, "p": 0.67},
      {"row": 15, "k": "post", "yr": 1417, "p": 0.78},
      {"row": 15, "k": "post", "yr": 1411.3, "p": 0.55},
      {"row": 15, "k": "post", "yr": 1406.6, "p": 0.31},
      {"row": 15, "k": "post", "yr": 1399.5, "p": 0.17},
      {"row": 15, "k": "post", "yr": 1390.1, "p": 0.1},
      {"row": 15, "k": "post", "yr": 1378.3, "p": 0.05},
      {"row": 15, "k": "post", "yr": 1364.1, "p": 0.03},
      {"row": 15, "k": "post", "yr": 1340.5, "p": 0.02},
      {"row": 15, "k": "post", "yr": 1333.5, "p": 0.06},
      {"row": 15, "k": "post", "yr": 1327.3, "p": 0.12},
      {"row": 15, "k": "post", "yr": 1321.7, "p": 0.03},
      {"row": 15, "k": "post", "yr": 1312.2, "p": 0.01},
      {"row": 15, "k": "post", "yr": 1302.8, "p": 0},
      {"row": 15, "k": "post", "yr": 1052, "p": 0}
    ]
  },
  "layer": [
    {
      "data": {"name": "curves"},
      "transform": [
        {"filter": "datum.k === 'prior'"},
        {"calculate": "datum.row + 0.6 - 0.5 * datum.p", "as": "yt"},
        {"calculate": "datum.row + 0.6", "as": "yb"}
      ],
      "mark": {"type": "area", "fill": "white", "fillOpacity": 1, "interpolate": "monotone", "line": {"color": "black", "strokeWidth": 1}},
      "encoding": {
        "x": {
          "field": "yr", "type": "quantitative", "title": "Calibrated date",
          "scale": {"domain": [2323, 700], "nice": false, "zero": false},
          "axis": {
            "values": [2300, 2200, 2100, 2000, 1900, 1800, 1700, 1600, 1500, 1400, 1300, 1200, 1100, 1000, 900, 800, 700],
            "labelExpr": "datum.value % 500 === 0 ? datum.value + 'CalBC' : ''",
            "labelFont": "Liberation Serif", "labelFontSize": 33, "labelColor": "#000",
            "labelPadding": 24, "labelFlush": false, "labelOverlap": false,
            "ticks": false,
            "domainColor": "#333", "domainWidth": 1.5,
            "grid": true,
            "gridColor": "#8c8c8c",
            "gridWidth": {"condition": {"test": "datum.value % 500 === 0", "value": 1.3}, "value": 1},
            "gridDash": {"condition": {"test": "datum.value % 500 === 0", "value": []}, "value": [10, 60.81]},
            "gridDashOffset": 68.77,
            "titleFont": "Liberation Serif", "titleFontSize": 33, "titleFontWeight": "normal", "titleColor": "#000",
            "titlePadding": 26
          }
        },
        "y": {
          "field": "yt", "type": "quantitative", "title": null,
          "scale": {"domain": [0, 16.1], "reverse": true, "nice": false, "zero": false},
          "axis": {
            "values": [1, 2, 3, 4, 5, 6, 7, 8, 9, 10, 11, 12, 13, 14, 15],
            "grid": true, "gridColor": "#999", "gridWidth": 1,
            "labels": false, "ticks": false, "domain": false
          }
        },
        "y2": {"field": "yb"},
        "detail": {"field": "row"}
      }
    },
    {
      "data": {"name": "curves"},
      "transform": [
        {"filter": "datum.k === 'post'"},
        {"calculate": "datum.row + 0.6 - 0.5 * datum.p", "as": "yt"},
        {"calculate": "datum.row + 0.6", "as": "yb"}
      ],
      "mark": {"type": "area", "color": "black", "fillOpacity": 1, "interpolate": "monotone", "line": {"color": "black", "strokeWidth": 1.8}},
      "encoding": {
        "x": {"field": "yr", "type": "quantitative", "title": "Calibrated date"},
        "y": {"field": "yt", "type": "quantitative", "title": null},
        "y2": {"field": "yb"},
        "detail": {"field": "row"}
      }
    },
    {
      "data": {"name": "ranges"},
      "transform": [
        {"calculate": "datum.row + (datum.ci === 68 ? 0.65 : 0.705)", "as": "ly"}
      ],
      "mark": {"type": "rule", "color": "#333", "strokeWidth": 1},
      "encoding": {
        "x": {"field": "from", "type": "quantitative", "title": "Calibrated date"},
        "x2": {"field": "to"},
        "y": {"field": "ly", "type": "quantitative", "title": null}
      }
    },
    {
      "data": {"name": "ranges"},
      "transform": [
        {"calculate": "datum.row + (datum.ci === 68 ? 0.65 : 0.705)", "as": "ly"},
        {"calculate": "datum.ly - 0.045", "as": "ty"},
        {"fold": ["from", "to"], "as": ["end", "ex"]}
      ],
      "mark": {"type": "rule", "color": "#333", "strokeWidth": 1},
      "encoding": {
        "x": {"field": "ex", "type": "quantitative", "title": "Calibrated date"},
        "y": {"field": "ly", "type": "quantitative", "title": null},
        "y2": {"field": "ty"}
      }
    },
    {
      "data": {"name": "brackets"},
      "transform": [
        {"filter": "datum.level === 0"},
        {"calculate": "datum.first + 0.4", "as": "top"},
        {"calculate": "datum.last + 0.79", "as": "bot"}
      ],
      "mark": {"type": "rule", "color": "#6f87c8", "strokeWidth": 1.5},
      "encoding": {
        "x": {"datum": 2312.3, "type": "quantitative", "title": "Calibrated date"},
        "y": {"field": "top", "type": "quantitative", "title": null},
        "y2": {"field": "bot"}
      }
    },
    {
      "data": {"name": "brackets"},
      "transform": [
        {"filter": "datum.level === 0"},
        {"calculate": "datum.first + 0.4", "as": "top"},
        {"calculate": "datum.last + 0.79", "as": "bot"},
        {"fold": ["top", "bot"], "as": ["end", "ey"]}
      ],
      "mark": {"type": "rule", "color": "#6f87c8", "strokeWidth": 1.5},
      "encoding": {
        "x": {"datum": 2312.3, "type": "quantitative", "title": "Calibrated date"},
        "x2": {"datum": 2299.3},
        "y": {"field": "ey", "type": "quantitative", "title": null}
      }
    },
    {
      "data": {"name": "brackets"},
      "transform": [
        {"filter": "datum.level === 1"},
        {"calculate": "datum.first + 0.4", "as": "top"},
        {"calculate": "datum.last + 0.79", "as": "bot"}
      ],
      "mark": {"type": "rule", "color": "#6f87c8", "strokeWidth": 1.5},
      "encoding": {
        "x": {"datum": 2257.8, "type": "quantitative", "title": "Calibrated date"},
        "y": {"field": "top", "type": "quantitative", "title": null},
        "y2": {"field": "bot"}
      }
    },
    {
      "data": {"name": "brackets"},
      "transform": [
        {"filter": "datum.level === 1"},
        {"calculate": "datum.first + 0.4", "as": "top"},
        {"calculate": "datum.last + 0.79", "as": "bot"},
        {"fold": ["top", "bot"], "as": ["end", "ey"]}
      ],
      "mark": {"type": "rule", "color": "#6f87c8", "strokeWidth": 1.5},
      "encoding": {
        "x": {"datum": 2257.8, "type": "quantitative", "title": "Calibrated date"},
        "x2": {"datum": 2244.8},
        "y": {"field": "ey", "type": "quantitative", "title": null}
      }
    },
    {
      "data": {"name": "brackets"},
      "transform": [
        {"filter": "datum.level === 2"},
        {"calculate": "datum.first + 0.4", "as": "top"},
        {"calculate": "datum.last + 0.79", "as": "bot"}
      ],
      "mark": {"type": "rule", "color": "#6f87c8", "strokeWidth": 1.5},
      "encoding": {
        "x": {"datum": 2203.3, "type": "quantitative", "title": "Calibrated date"},
        "y": {"field": "top", "type": "quantitative", "title": null},
        "y2": {"field": "bot"}
      }
    },
    {
      "data": {"name": "brackets"},
      "transform": [
        {"filter": "datum.level === 2"},
        {"calculate": "datum.first + 0.4", "as": "top"},
        {"calculate": "datum.last + 0.79", "as": "bot"},
        {"fold": ["top", "bot"], "as": ["end", "ey"]}
      ],
      "mark": {"type": "rule", "color": "#6f87c8", "strokeWidth": 1.5},
      "encoding": {
        "x": {"datum": 2203.3, "type": "quantitative", "title": "Calibrated date"},
        "x2": {"datum": 2190.3},
        "y": {"field": "ey", "type": "quantitative", "title": null}
      }
    },
    {
      "data": {"name": "labels"},
      "transform": [
        {"filter": "datum.level === 0"},
        {"calculate": "datum.row + 0.59", "as": "ty"}
      ],
      "mark": {"type": "text", "align": "left", "baseline": "alphabetic", "font": "Liberation Serif", "fontSize": 33, "color": "#3050a8"},
      "encoding": {
        "x": {"datum": 2256.4, "type": "quantitative", "title": "Calibrated date"},
        "y": {"field": "ty", "type": "quantitative", "title": null},
        "text": {"field": "text"}
      }
    },
    {
      "data": {"name": "labels"},
      "transform": [
        {"filter": "datum.level === 1"},
        {"calculate": "datum.row + 0.59", "as": "ty"}
      ],
      "mark": {"type": "text", "align": "left", "baseline": "alphabetic", "font": "Liberation Serif", "fontSize": 33, "color": "#3050a8"},
      "encoding": {
        "x": {"datum": 2202.5, "type": "quantitative", "title": "Calibrated date"},
        "y": {"field": "ty", "type": "quantitative", "title": null},
        "text": {"field": "text"}
      }
    },
    {
      "data": {"name": "labels"},
      "transform": [
        {"filter": "datum.level === 2 && !datum.it"},
        {"calculate": "datum.row + 0.59", "as": "ty"}
      ],
      "mark": {"type": "text", "align": "left", "baseline": "alphabetic", "font": "Liberation Serif", "fontSize": 33, "color": "#3050a8"},
      "encoding": {
        "x": {"datum": 2148.7, "type": "quantitative", "title": "Calibrated date"},
        "y": {"field": "ty", "type": "quantitative", "title": null},
        "text": {"field": "text"}
      }
    },
    {
      "data": {"name": "labels"},
      "transform": [
        {"filter": "datum.level === 2 && datum.it"},
        {"calculate": "datum.row + 0.59", "as": "ty"}
      ],
      "mark": {"type": "text", "align": "left", "baseline": "alphabetic", "font": "Liberation Serif", "fontSize": 35, "fontStyle": "italic", "color": "#3050a8"},
      "encoding": {
        "x": {"datum": 2148.7, "type": "quantitative", "title": "Calibrated date"},
        "y": {"field": "ty", "type": "quantitative", "title": null},
        "text": {"field": "text"}
      }
    }
  ]
}
